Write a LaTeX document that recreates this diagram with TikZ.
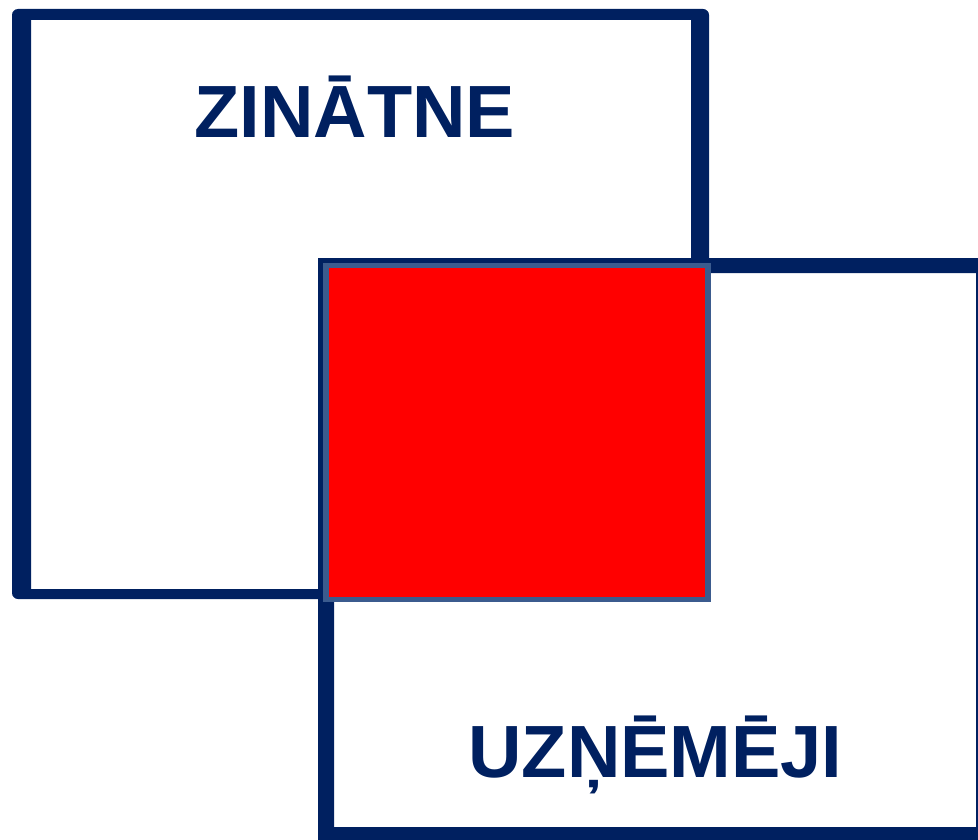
\documentclass[tikz,border=0pt]{standalone}
\usepackage{fontspec}
\setmainfont{Liberation Sans}
\definecolor{navy}{RGB}{0,32,96}
\definecolor{steel}{RGB}{59,91,142}
\begin{document}
\begin{tikzpicture}[x=1pt,y=-1pt,
  frame/.style={fill=navy,even odd rule},
  title/.style={text=navy,anchor=base,inner sep=0pt,font=\fontsize{74}{80}\selectfont\bfseries}]
\useasboundingbox (0,0) rectangle (978,840);
\clip (0,0) rectangle (978,840);
% upper left square
\fill[frame,rounded corners=6pt] (12,9) rectangle (709,599)
  [sharp corners] (31,20) rectangle (691,589);
% lower right square
\fill[frame] (318,258) rectangle (994,855) (334,273) rectangle (976,827);
% overlap
\fill[steel] (323,263) rectangle (711,602);
\fill[red] (329,268) rectangle (705,597);
\node[title] (zinatne) at (355,138) {ZINĀTNE};
\node[title] (uznemeji) at (655.5,777) {UZŅĒMĒJI};
\end{tikzpicture}
\end{document}
